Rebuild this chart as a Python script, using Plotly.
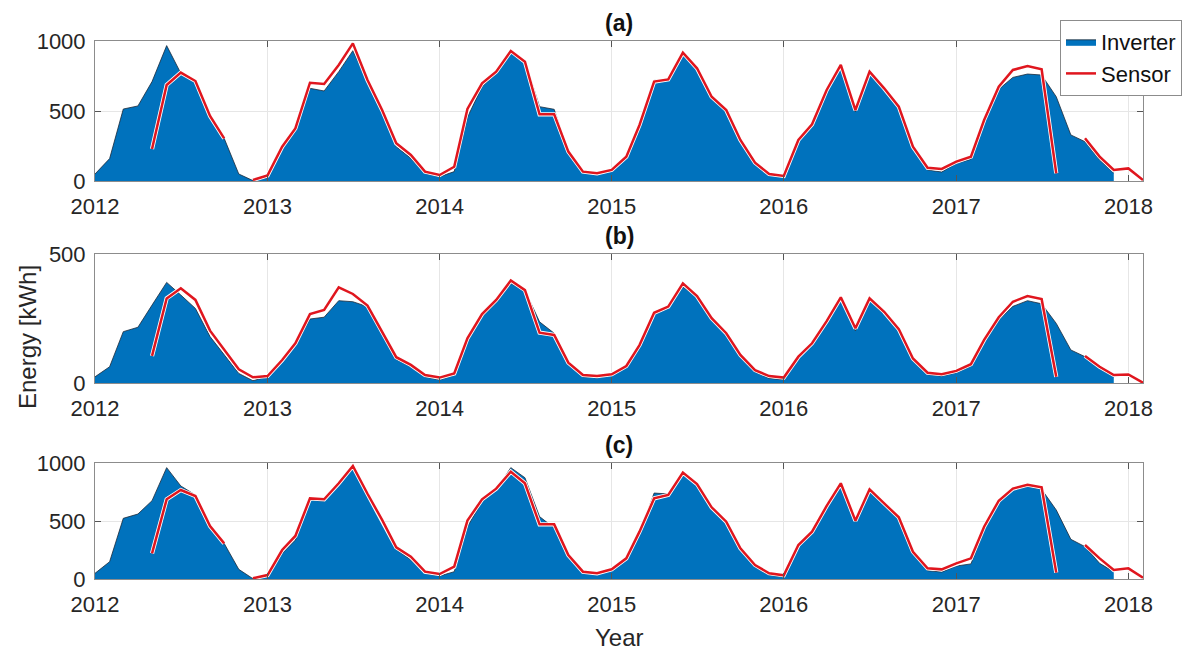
import plotly.graph_objects as go
import pandas as pd

months = [d.strftime("%Y-%m-%d") for d in pd.date_range("2012-01-01", periods=74, freq="MS")]
N = None

inv_a = [50, 160, 514, 536, 710, 967, 770, 710, 471, 305, 50, 3, 25, 235, 364, 662, 643, 781, 931, 710,
         495, 245, 162, 55, 31, 67, 455, 674, 769, 921, 860, 531, 512, 210, 60, 50, 74, 174, 388, 719,
         726, 912, 817, 600, 505, 290, 124, 40, 31, 281, 400, 640, 817, 495, 769, 655, 525, 240, 79, 64,
         126, 155, 424, 655, 740, 764, 757, 602, 329, 281, 150, 57, N, N]
sen_a = [N, N, N, N, 229, 686, 774, 714, 464, 305, N, 7, 40, 245, 376, 702, 693, 829, 983, 721,
         507, 269, 186, 67, 43, 102, 515, 698, 781, 929, 852, 476, 476, 210, 67, 55, 79, 174, 400, 710,
         726, 917, 805, 602, 507, 293, 131, 50, 36, 293, 405, 650, 829, 507, 781, 662, 531, 245, 95, 86,
         138, 174, 436, 674, 793, 821, 798, 55, N, 305, 174, 79, 90, 7]

inv_b = [24, 63, 199, 216, 302, 390, 341, 289, 180, 109, 37, 9, 24, 83, 147, 248, 255, 319, 315, 296,
         193, 92, 63, 24, 12, 31, 160, 257, 312, 386, 360, 237, 193, 75, 24, 20, 31, 61, 140, 267,
         289, 373, 333, 247, 186, 101, 44, 18, 13, 95, 147, 237, 322, 202, 319, 267, 200, 86, 33, 27,
         40, 66, 157, 244, 297, 319, 307, 231, 128, 102, 57, 24, N, N]
sen_b = [N, N, N, N, 105, 328, 367, 322, 203, 128, 53, 22, 27, 89, 154, 267, 283, 371, 345, 300,
         199, 100, 70, 31, 21, 37, 173, 267, 322, 397, 360, 195, 186, 79, 31, 27, 34, 66, 147, 272,
         296, 386, 337, 251, 193, 109, 50, 27, 21, 102, 154, 240, 332, 212, 328, 276, 209, 95, 40, 34,
         47, 73, 167, 255, 315, 337, 325, 24, N, 105, 63, 31, 33, 1]

inv_c = [49, 149, 523, 560, 675, 960, 802, 724, 465, 307, 83, 3, 20, 221, 336, 681, 672, 810, 954, 720,
         494, 256, 164, 49, 26, 63, 451, 667, 767, 960, 873, 538, 440, 221, 63, 49, 72, 170, 394, 741,
         733, 911, 819, 609, 494, 250, 106, 34, 20, 279, 394, 615, 810, 494, 759, 640, 517, 221, 72, 60,
         112, 130, 422, 658, 767, 799, 773, 595, 342, 279, 135, 63, N, N]
sen_c = [N, N, N, N, 221, 687, 767, 715, 457, 307, N, 6, 34, 250, 371, 695, 687, 825, 974, 735,
         509, 273, 192, 63, 43, 106, 503, 687, 779, 925, 825, 471, 471, 207, 63, 49, 84, 178, 408, 695,
         724, 917, 819, 618, 494, 264, 121, 49, 32, 293, 408, 630, 825, 503, 773, 652, 532, 235, 92, 83,
         135, 178, 451, 675, 779, 813, 790, 55, N, 293, 178, 78, 92, 11]

panel_titles = ["(a)", "(b)", "(c)"]
y_max = [1000, 500, 1000]
y_ticks = [[0, 500, 1000], [0, 500], [0, 500, 1000]]
year_ticks = ["2012-01-01", "2013-01-01", "2014-01-01", "2015-01-01", "2016-01-01", "2017-01-01", "2018-01-01"]
year_labels = ["2012", "2013", "2014", "2015", "2016", "2017", "2018"]

W, H = 1190, 652
x0, x1 = 95, 1143
panels_px = [(41, 181), (254, 383), (463, 579)]  # top, bottom in px

BLUE = "#0072BD"
RED = "#E0161E"
TXT = "#262626"
FONT = "Liberation Sans, Arial, sans-serif"

fig = go.Figure()
inv = [inv_a, inv_b, inv_c]
sen = [sen_a, sen_b, sen_c]

for i in range(3):
    xa = "x" if i == 0 else f"x{i+1}"
    ya = "y" if i == 0 else f"y{i+1}"
    fig.add_trace(go.Scatter(x=months, y=inv[i], mode="lines", fill="tozeroy",
                             fillcolor=BLUE, line=dict(color="#1a2a3a", width=0.8),
                             name="Inverter", legendgroup="inv", showlegend=(i == 0),
                             xaxis=xa, yaxis=ya))
    fig.add_trace(go.Scatter(x=months, y=sen[i], mode="lines",
                             line=dict(color="white", width=4.2),
                             showlegend=False, hoverinfo="skip", xaxis=xa, yaxis=ya))
    fig.add_trace(go.Scatter(x=months, y=sen[i], mode="lines",
                             line=dict(color=RED, width=2.5),
                             name="Sensor", legendgroup="sen", showlegend=(i == 0),
                             xaxis=xa, yaxis=ya))

layout = dict(
    width=W, height=H, paper_bgcolor="white", plot_bgcolor="white",
    margin=dict(l=0, r=0, t=0, b=0),
    font=dict(family=FONT, color=TXT, size=22),
    legend=dict(x=1060 / W, y=1 - 20 / H, xanchor="left", yanchor="top",
                bgcolor="white", bordercolor="#8c8c8c", borderwidth=1,
                font=dict(size=22, family=FONT, color="#111"),
                tracegroupgap=0, itemwidth=30),
    annotations=[],
)

for i in range(3):
    top, bot = panels_px[i]
    xk = "xaxis" if i == 0 else f"xaxis{i+1}"
    yk = "yaxis" if i == 0 else f"yaxis{i+1}"
    ya = "y" if i == 0 else f"y{i+1}"
    xa = "x" if i == 0 else f"x{i+1}"
    layout[xk] = dict(domain=[x0 / W, x1 / W], anchor=ya, type="date",
                      range=[months[0], months[-1]],
                      tickvals=year_ticks, ticktext=year_labels,
                      showgrid=True, gridcolor="#e6e6e6", gridwidth=1,
                      showline=True, linecolor="#8c8c8c", linewidth=1, mirror="ticks",
                      ticks="inside", ticklen=6, tickcolor="#555",
                      tickfont=dict(size=22, family=FONT, color=TXT),
                      ticklabelstandoff=6, automargin=False, zeroline=False)
    layout[yk] = dict(domain=[1 - bot / H, 1 - top / H], anchor=xa,
                      range=[0, y_max[i]], tickvals=y_ticks[i],
                      showgrid=True, gridcolor="#e6e6e6", gridwidth=1,
                      showline=True, linecolor="#8c8c8c", linewidth=1, mirror="ticks",
                      ticks="inside", ticklen=6, tickcolor="#555",
                      tickfont=dict(size=22, family=FONT, color=TXT),
                      ticklabelstandoff=4, automargin=False, zeroline=False)
    layout["annotations"].append(dict(
        text="<b>" + panel_titles[i] + "</b>", x=(x0 + x1) / 2 / W, y=1 - (top - 3) / H,
        xref="paper", yref="paper", xanchor="center", yanchor="bottom",
        showarrow=False, font=dict(size=23, family=FONT, color="#111")))

layout["annotations"].append(dict(
    text="Energy [kWh]", x=27 / W, y=1 - 337 / H, xref="paper", yref="paper",
    xanchor="center", yanchor="middle", textangle=-90, showarrow=False,
    font=dict(size=24, family=FONT, color=TXT)))
layout["annotations"].append(dict(
    text="Year", x=619 / W, y=1 - 637 / H, xref="paper", yref="paper",
    xanchor="center", yanchor="middle", showarrow=False,
    font=dict(size=24, family=FONT, color=TXT)))

fig.update_layout(**layout)
fig.write_html("out.html", config={"displayModeBar": False},
               post_script="document.body.style.margin='0';document.body.style.overflow='hidden';")
